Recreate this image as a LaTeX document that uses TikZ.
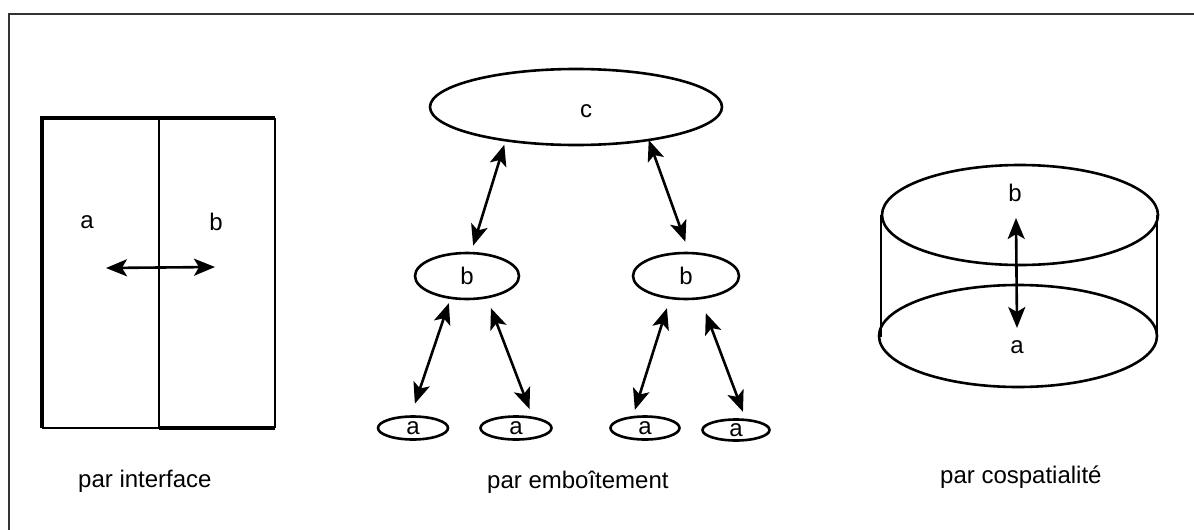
\documentclass[tikz,border=0pt]{standalone}
\usepackage{fontspec}
\setmainfont{Liberation Sans}
\usetikzlibrary{arrows.meta}
\usetikzlibrary{shapes.geometric}

\tikzset{
  bulle/.style={draw, ellipse, line width=2.6pt, inner sep=0pt},
  fleche/.style={>={Stealth[length=21pt,width=17pt,inset=5pt]}, <->, line width=2.6pt},
  legende/.style={anchor=base west, inner sep=0pt},
}

\begin{document}
\begin{tikzpicture}[x=1pt, y=-1pt, font=\fontsize{24}{29}\selectfont]
        \useasboundingbox (0,0) rectangle (1194,530);
        \draw[line width=2pt, black!80] (9,530) -- (9,14) -- (1194,14);

        % par interface
        \draw[line width=1.8pt] (159,118) -- (159,428);
        \draw[line width=1.5pt] (42,428) -- (159,428);
        \draw[line width=1.2pt] (275,118) -- (275,428);
        \draw[line width=4pt] (42,428) -- (42,118) -- (275,118);
        \draw[line width=3.5pt] (159,428) -- (275,428);
        \node (ga) at (87,222) {a};
        \node (gb) at (216,222) {b};
        \coordinate (gl) at (106,268);
        \coordinate (gr) at (215,267);
        \draw[fleche] (gl) -- (gr);
        \node[legende] (t1) at (78,487) {par interface};

        % par emboitement
        \node[bulle, minimum width=292pt, minimum height=76pt,
          label={[xshift=10pt, yshift=-4pt]center:c}] (c) at (576,107) {};
        \node[bulle, minimum width=104pt, minimum height=46pt] (b1) at (467,276) {b};
        \node[bulle, minimum width=106pt, minimum height=46pt] (b2) at (686,276) {b};
        \node[bulle, minimum width=70pt, minimum height=23pt] (a1) at (413,428) {a};
        \node[bulle, minimum width=71pt, minimum height=23pt] (a2) at (516,428) {a};
        \node[bulle, minimum width=69pt, minimum height=23pt] (a3) at (645,428) {a};
        \node[bulle, minimum width=67pt, minimum height=21pt] (a4) at (736,430) {a};

        \draw[fleche, shorten <=3.4pt, shorten >=6.4pt] (c.206.8) -- (b1.80.3);
        \draw[fleche, shorten <=-1.2pt, shorten >=10.6pt] (c.335.1) -- (b2.83.4);
        \draw[fleche, shorten <=4.3pt, shorten >=12.2pt] (b1.234.5) -- (a1.99.5);
        \draw[fleche, shorten <=10.3pt, shorten >=8pt] (b1.312.3) -- (a2.35.2);
        \draw[fleche, shorten <=9.4pt, shorten >=6.4pt] (b2.235.3) -- (a3.135);
        \draw[fleche, shorten <=14.7pt, shorten >=7.3pt] (b2.302.1) -- (a4.50);
        \node[legende] (t2) at (487,488) {par emboîtement};

        % par cospatialite
        \draw[line width=2.6pt] (1020,215) ellipse [x radius=138pt, y radius=50pt];
        \draw[line width=2.6pt] (1018,336) ellipse [x radius=139pt, y radius=51pt];
        \draw[line width=2.6pt] (881,215) -- (881,337);
        \draw[line width=2.6pt] (1157,215) -- (1157,337);
        \node (cb) at (1015,193) {b};
        \node (ca) at (1017,347) {a};
        \coordinate (ch) at (1016,218);
        \coordinate (cl) at (1017,328);
        \draw[fleche] (ch) -- (cl);
        \node[legende] (t3) at (940,483) {par cospatialité};
\end{tikzpicture}
\end{document}
